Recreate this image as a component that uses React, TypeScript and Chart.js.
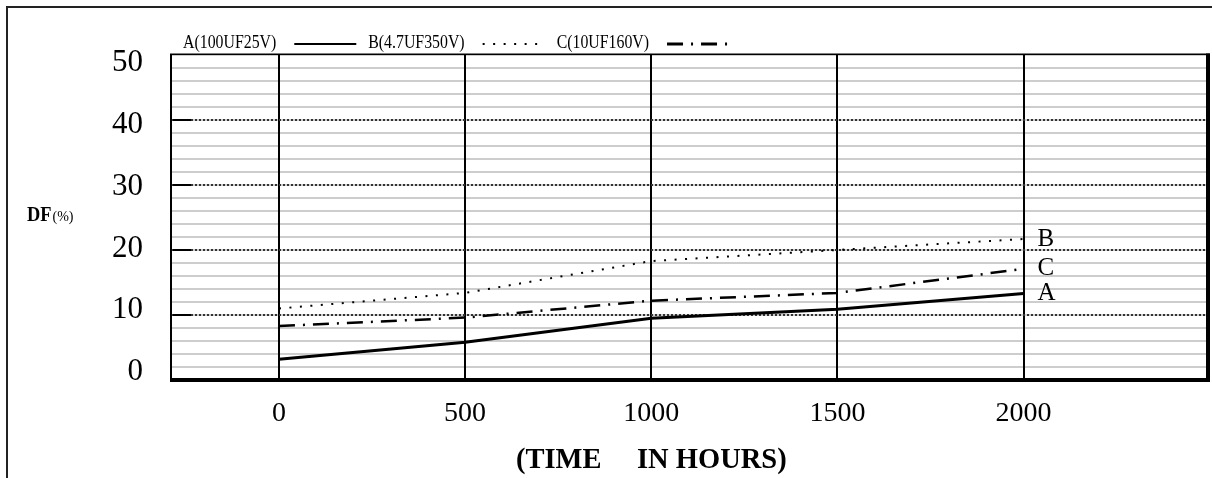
import React, { useEffect, useRef } from 'react';
import { Chart, registerables } from 'chart.js';

Chart.register(...registerables);

// ---- data ----
const hours = [0, 500, 1000, 1500, 2000];
const dfA = [3.2, 5.8, 9.5, 10.9, 13.3];
const dfB = [11.0, 13.4, 18.3, 20.0, 21.7];
const dfC = [8.3, 9.6, 12.2, 13.4, 17.1];
const seriesLabels = ['A(100UF25V)', 'B(4.7UF350V)', 'C(10UF160V)'];
const endTags = ['A', 'B', 'C'];
const xTicks = [0, 500, 1000, 1500, 2000];
const yLabelTicks = [0, 10, 20, 30, 40, 50];
const yMajorLines = [10, 20, 30, 40];
const xTitle = '(TIME     IN HOURS)';
const yTitle = 'DF';
const yUnit = '(%)';

const FONT = '"Liberation Serif", "DejaVu Serif", serif';

function drawText(
  ctx: CanvasRenderingContext2D,
  text: string,
  x: number,
  y: number,
  font: string,
  sx = 1,
  align: CanvasTextAlign = 'left',
  baseline: CanvasTextBaseline = 'alphabetic'
): number {
  ctx.save();
  ctx.font = font;
  ctx.textAlign = align;
  ctx.textBaseline = baseline;
  ctx.fillStyle = '#000';
  ctx.translate(x, y);
  ctx.scale(sx, 1);
  ctx.fillText(text, 0, 0);
  const w = ctx.measureText(text).width * sx;
  ctx.restore();
  return w;
}

const decorPlugin = {
  id: 'decor',
  afterDatasetsDraw(chart: any) {
    const { ctx, chartArea } = chart;
    const { left, right, top, bottom } = chartArea;
    const ys = chart.scales.y;
    ctx.save();
    ctx.strokeStyle = '#000';
    ctx.setLineDash([]);
    // frame
    ctx.lineWidth = 2;
    ctx.beginPath();
    ctx.moveTo(left, top - 1);
    ctx.lineTo(left, bottom);
    ctx.stroke();
    ctx.lineWidth = 1.5;
    ctx.beginPath();
    ctx.moveTo(left - 1, top - 0.75);
    ctx.lineTo(right + 4, top - 0.75);
    ctx.stroke();
    ctx.lineWidth = 4;
    ctx.beginPath();
    ctx.moveTo(right + 2, top - 1.5);
    ctx.lineTo(right + 2, bottom + 2);
    ctx.stroke();
    ctx.beginPath();
    ctx.moveTo(left - 1, bottom);
    ctx.lineTo(right + 4, bottom);
    ctx.stroke();
    // short tick stubs inside
    ctx.lineWidth = 2;
    yMajorLines.forEach((v) => {
      const py = ys.getPixelForValue(v);
      ctx.beginPath();
      ctx.moveTo(left + 2, py);
      ctx.lineTo(left + 20, py);
      ctx.stroke();
    });
    ctx.restore();
    // end labels
    chart.data.datasets.forEach((ds: any, i: number) => {
      const meta = chart.getDatasetMeta(i);
      const last = meta.data[meta.data.length - 1];
      drawText(ctx, endTags[i], last.x + 14, last.y, '25px ' + FONT, 1, 'left', 'middle');
    });
  },
  afterDraw(chart: any) {
    const { ctx, chartArea } = chart;
    // legend
    let x = chartArea.left + 12;
    const y = chartArea.top - 12;
    chart.data.datasets.forEach((ds: any) => {
      const w = drawText(ctx, ds.label, x, y, '18px ' + FONT, 0.88, 'left', 'middle');
      x += w + 18;
      ctx.save();
      ctx.strokeStyle = '#000';
      ctx.lineWidth = ds.legendWidth;
      ctx.setLineDash(ds.borderDash || []);
      ctx.beginPath();
      ctx.moveTo(x, y + 1);
      ctx.lineTo(x + 62, y + 1);
      ctx.stroke();
      ctx.restore();
      x += 62 + 12;
    });
    // y title
    const w = drawText(ctx, yTitle, 19, 213, 'bold 20px ' + FONT, 0.92);
    drawText(ctx, yUnit, 19 + w + 1, 213, '14px ' + FONT, 1);
    // x title
    const xs = chart.scales.x;
    drawText(ctx, xTitle, xs.getPixelForValue(1000), 460, 'bold 30px ' + FONT, 0.95, 'center');
  },
};

export default function App() {
  const ref = useRef<HTMLCanvasElement | null>(null);
  useEffect(() => {
    if (!ref.current) return;
    const mk = (d: number[]) => hours.map((h, i) => ({ x: h, y: d[i] }));
    const chart = new Chart(ref.current, {
      type: 'line',
      data: {
        datasets: [
          {
            label: seriesLabels[0],
            data: mk(dfA),
            borderColor: '#000',
            borderWidth: 3,
            borderDash: [],
            legendWidth: 2,
            pointRadius: 0,
            tension: 0,
            fill: false,
            xAxisID: 'x',
            yAxisID: 'y',
          } as any,
          {
            label: seriesLabels[1],
            data: mk(dfB),
            borderColor: '#000',
            borderWidth: 2,
            borderDash: [2, 8.5],
            legendWidth: 2,
            pointRadius: 0,
            tension: 0,
            fill: false,
            xAxisID: 'x',
            yAxisID: 'y',
          } as any,
          {
            label: seriesLabels[2],
            data: mk(dfC),
            borderColor: '#000',
            borderWidth: 2.5,
            borderDash: [16, 8, 2, 8],
            legendWidth: 3,
            pointRadius: 0,
            tension: 0,
            fill: false,
            xAxisID: 'x',
            yAxisID: 'y',
          } as any,
        ],
      },
      options: {
        responsive: false,
        animation: false,
        layout: { padding: { left: 0, right: 6, top: 47, bottom: 0 } },
        plugins: { legend: { display: false }, tooltip: { enabled: false }, title: { display: false } },
        scales: {
          x: {
            type: 'linear',
            position: 'bottom',
            min: -290,
            max: 2490,
            afterBuildTicks: (s: any) => {
              s.ticks = xTicks.map((v) => ({ value: v }));
            },
            afterFit: (s: any) => {
              s.height = 98;
            },
            grid: { color: '#000', lineWidth: 2, drawTicks: false, z: -1 },
            border: { display: false },
            ticks: {
              color: '#000',
              font: { family: FONT, size: 28 },
              padding: 17,
              maxRotation: 0,
              autoSkip: false,
              callback: (v: any) => String(v),
            },
          },
          yMinor: {
            type: 'linear',
            position: 'left',
            min: 0,
            max: 50,
            ticks: { display: false, stepSize: 2 },
            grid: { color: '#cdcdcd', lineWidth: 2, drawTicks: false, z: -2 },
            border: { display: false },
            afterFit: (s: any) => {
              s.width = 0;
            },
          },
          y: {
            type: 'linear',
            position: 'left',
            min: 0,
            max: 50,
            afterBuildTicks: (s: any) => {
              s.ticks = yMajorLines.map((v) => ({ value: v }));
            },
            ticks: { display: false },
            grid: { color: '#333', lineWidth: 2, drawTicks: false, z: -1 },
            border: { display: false, dash: [2, 2] },
            afterFit: (s: any) => {
              s.width = 0;
            },
          },
          yLabels: {
            type: 'linear',
            position: 'left',
            min: -1.3,
            max: 51.3,
            afterBuildTicks: (s: any) => {
              s.ticks = yLabelTicks.map((v) => ({ value: v }));
            },
            ticks: {
              color: '#000',
              font: { family: FONT, size: 31 },
              padding: 28,
              callback: (v: any) => String(v),
            },
            grid: { display: false, drawTicks: false },
            border: { display: false },
            afterFit: (s: any) => {
              s.width = 163;
            },
          },
        },
      } as any,
      plugins: [decorPlugin],
    });
    return () => chart.destroy();
  }, []);

  return (
    <div
      style={{
        position: 'absolute',
        left: 6,
        top: 6,
        width: 1206,
        height: 472,
        boxSizing: 'border-box',
        borderTop: '2px solid #222',
        borderLeft: '2px solid #222',
        background: '#fff',
      }}
    >
      <canvas ref={ref} width={1204} height={470} style={{ display: 'block', width: 1204, height: 470 }} />
    </div>
  );
}
